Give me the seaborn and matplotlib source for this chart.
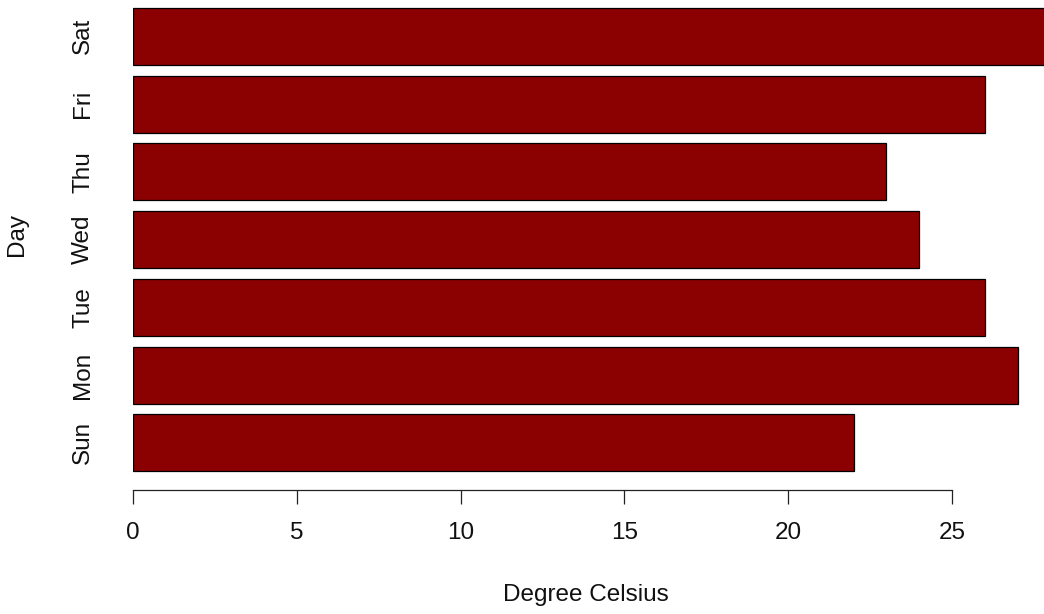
import matplotlib
matplotlib.use("Agg")
import matplotlib.pyplot as plt
import seaborn as sns
import pandas as pd

days = ["Sun", "Mon", "Tue", "Wed", "Thu", "Fri", "Sat"]
temps = [22, 27, 26, 24, 23, 26, 28]
xticks = [0, 5, 10, 15, 20, 25]

sns.set_style("white")
plt.rcParams["font.family"] = ["Liberation Sans", "DejaVu Sans"]

df = pd.DataFrame({"Day": days, "Temp": temps})
order = days[::-1]  # seaborn puts the first category at top

W, H = 1044, 614
fig = plt.figure(figsize=(W / 100, H / 100), dpi=100)
ax = fig.add_axes([133 / W, 1 - 490 / H, (W - 133) / W, 490 / H])

sns.barplot(data=df, x="Temp", y="Day", order=order, orient="h",
            color="#8B0000", saturation=1, width=0.84,
            edgecolor="black", linewidth=0.9, ax=ax)

ax.set_xlim(0, (W - 133) / 32.76)
ax.set_ylim(6 + 47.2 / 67.75, -36.3 / 67.75)

for s in ["top", "right", "left"]:
    ax.spines[s].set_visible(False)
ax.spines["bottom"].set_bounds(0, 25)
ax.spines["bottom"].set_color("#222222")
ax.spines["bottom"].set_linewidth(0.9)

fs = 17.5
ax.set_xticks(xticks)
ax.set_xticklabels([str(t) for t in xticks])
ax.tick_params(axis="x", length=10, width=0.9, color="#222222", pad=13,
               labelsize=fs, labelcolor="#111111", bottom=True)
ax.tick_params(axis="y", length=0, pad=28, labelsize=fs, labelcolor="#111111")
for lab in ax.get_yticklabels():
    lab.set_rotation(90)
    lab.set_va("center")

ax.set_xlabel("Degree Celsius", fontsize=fs, color="#111111")
ax.set_ylabel("Day", fontsize=fs, color="#111111")
ax.xaxis.set_label_coords(0.4973, -0.192)
ax.yaxis.set_label_coords(-0.115, 0.522)

fig.savefig("out.png", dpi=100)
